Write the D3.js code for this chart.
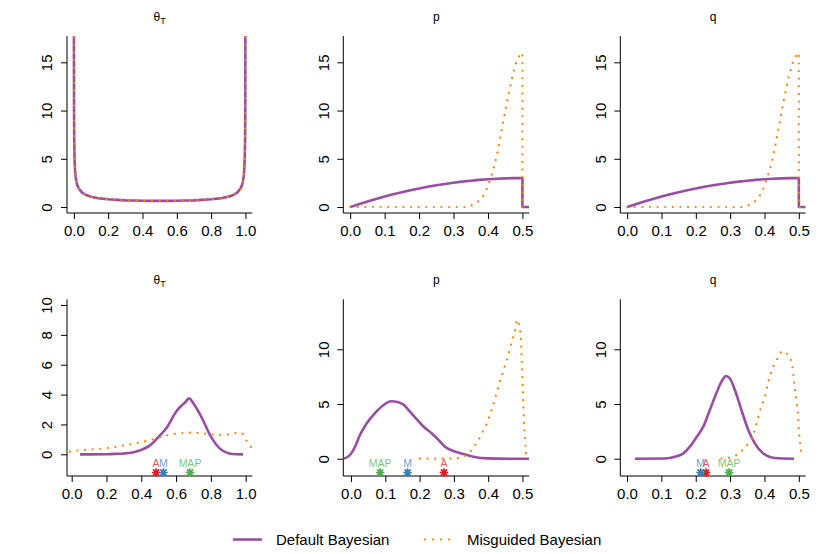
<!DOCTYPE html>
<html>
<head>
<meta charset="utf-8">
<script src="https://cdn.jsdelivr.net/npm/d3@7"></script>
<style>
  body { margin: 0; background: #fff; }
  text { font-family: "Liberation Sans", Arial, sans-serif; }
</style>
</head>
<body>
<svg id="chart"></svg>
<script>
const width = 830;
const height = 554;

// --- data ---
const seriesNames = ["Default Bayesian", "Misguided Bayesian"];

const priorThetaDefault = [[0.0003,18.4],[0.001,10.07],[0.002,7.12],[0.004,5.04],[0.007,3.82],[0.01,3.2],[0.015,2.62],[0.02,2.27],[0.03,1.87],[0.05,1.46],[0.075,1.21],[0.1,1.06],[0.15,0.89],[0.2,0.8],[0.25,0.74],[0.3,0.69],[0.35,0.67],[0.4,0.65],[0.45,0.64],[0.5,0.64],[0.55,0.64],[0.6,0.65],[0.65,0.67],[0.7,0.69],[0.75,0.74],[0.8,0.8],[0.85,0.89],[0.9,1.06],[0.925,1.21],[0.95,1.46],[0.97,1.87],[0.98,2.27],[0.985,2.62],[0.99,3.2],[0.993,3.82],[0.996,5.04],[0.998,7.12],[0.999,10.07],[0.9997,18.4]];
const priorThetaMisguided = [[0.0003,18.4],[0.001,10.07],[0.002,7.12],[0.004,5.04],[0.007,3.82],[0.01,3.2],[0.015,2.62],[0.02,2.27],[0.03,1.87],[0.05,1.46],[0.075,1.21],[0.1,1.06],[0.15,0.89],[0.2,0.8],[0.25,0.74],[0.3,0.69],[0.35,0.67],[0.4,0.65],[0.45,0.64],[0.5,0.64],[0.55,0.64],[0.6,0.65],[0.65,0.67],[0.7,0.69],[0.75,0.74],[0.8,0.8],[0.85,0.89],[0.9,1.06],[0.925,1.21],[0.95,1.46],[0.97,1.87],[0.98,2.27],[0.985,2.62],[0.99,3.2],[0.993,3.82],[0.996,5.04],[0.998,7.12],[0.999,10.07],[0.9997,18.4]];

const priorPDefault = [[0,0],[0.025,0.29],[0.05,0.57],[0.075,0.83],[0.1,1.08],[0.125,1.31],[0.15,1.53],[0.175,1.73],[0.2,1.92],[0.225,2.09],[0.25,2.25],[0.275,2.39],[0.3,2.52],[0.325,2.63],[0.35,2.73],[0.375,2.81],[0.4,2.88],[0.425,2.93],[0.45,2.97],[0.475,2.99],[0.5,3.0],[0.5,0],[0.52,0]];
const priorPMisguided = [[0,0],[0.34,0],[0.355,0.2],[0.365,0.4],[0.375,0.69],[0.39,1.35],[0.4,2.2],[0.41,3.25],[0.42,4.45],[0.43,6.1],[0.44,8.0],[0.45,9.95],[0.46,11.7],[0.47,13.4],[0.48,14.8],[0.49,15.6],[0.5,16.0],[0.5,0],[0.52,0]];

const priorQDefault = [[0,0],[0.025,0.29],[0.05,0.57],[0.075,0.83],[0.1,1.08],[0.125,1.31],[0.15,1.53],[0.175,1.73],[0.2,1.92],[0.225,2.09],[0.25,2.25],[0.275,2.39],[0.3,2.52],[0.325,2.63],[0.35,2.73],[0.375,2.81],[0.4,2.88],[0.425,2.93],[0.45,2.97],[0.475,2.99],[0.5,3.0],[0.5,0],[0.52,0]];
const priorQMisguided = [[0,0],[0.34,0],[0.355,0.2],[0.365,0.4],[0.375,0.69],[0.39,1.35],[0.4,2.2],[0.41,3.25],[0.42,4.45],[0.43,6.1],[0.44,8.0],[0.45,9.95],[0.46,11.7],[0.47,13.4],[0.48,14.8],[0.49,15.6],[0.5,16.0],[0.5,0],[0.52,0]];

const postThetaDefault = [[0.048,0],[0.1,0],[0.2,0.01],[0.25,0.03],[0.3,0.06],[0.35,0.13],[0.4,0.3],[0.45,0.6],[0.5,1.18],[0.55,1.85],[0.6,2.85],[0.63,3.25],[0.65,3.45],[0.675,3.75],[0.7,3.4],[0.75,2.4],[0.8,1.18],[0.85,0.4],[0.9,0.08],[0.95,0.01],[0.985,0]];
const postThetaMisguided = [[-0.01,0.18],[0.05,0.28],[0.1,0.32],[0.15,0.36],[0.2,0.42],[0.25,0.5],[0.3,0.6],[0.35,0.7],[0.4,0.82],[0.45,0.96],[0.5,1.12],[0.55,1.28],[0.6,1.38],[0.65,1.44],[0.7,1.45],[0.75,1.41],[0.8,1.34],[0.85,1.3],[0.9,1.33],[0.95,1.43],[0.98,1.4],[1.0,1.0],[1.015,0.75],[1.03,0.5]];

const postPDefault = [[-0.022,0],[-0.003,0.34],[0.012,1.1],[0.026,2.17],[0.046,3.25],[0.07,4.17],[0.094,4.88],[0.117,5.25],[0.138,5.15],[0.153,4.94],[0.172,4.3],[0.192,3.6],[0.211,2.94],[0.235,2.33],[0.255,1.72],[0.274,1.1],[0.299,0.7],[0.328,0.43],[0.357,0.18],[0.396,0.03],[0.47,0],[0.52,0]];
const postPMisguided = [[0.201,0],[0.25,0],[0.3,0.02],[0.337,0.34],[0.364,1.34],[0.38,2.2],[0.396,3.23],[0.41,4.45],[0.43,6.6],[0.445,8.1],[0.457,9.3],[0.469,10.7],[0.479,11.8],[0.485,12.7],[0.491,12.1],[0.495,11.2],[0.498,9.0],[0.501,6.3],[0.505,3.2],[0.51,0.5]];

const postQDefault = [[0.023,0],[0.11,0.02],[0.14,0.18],[0.164,0.49],[0.183,1.1],[0.203,2.0],[0.222,2.93],[0.241,4.45],[0.26,5.98],[0.275,7.04],[0.288,7.56],[0.299,7.35],[0.314,6.28],[0.333,4.45],[0.353,2.62],[0.372,1.4],[0.396,0.49],[0.43,0.06],[0.486,0]];
const postQMisguided = [[0.275,0],[0.297,0.09],[0.319,0.34],[0.336,0.79],[0.353,1.4],[0.367,2.1],[0.377,3.23],[0.389,4.6],[0.401,5.67],[0.411,7.0],[0.42,7.96],[0.43,8.7],[0.44,9.27],[0.452,9.85],[0.464,9.63],[0.477,9.0],[0.482,8.26],[0.486,7.04],[0.49,6.13],[0.495,4.76],[0.498,3.84],[0.5,2.62],[0.503,1.7],[0.506,0.64]];

// point estimates (A, M, MAP) shown under the posterior curves
const estimateNames = ["A", "M", "MAP"];
const thetaEstimates = [0.485, 0.527, 0.68];
const pEstimates = [0.271, 0.165, 0.085];
const qEstimates = [0.23, 0.214, 0.297];

const xTicksTheta = [0, 0.2, 0.4, 0.6, 0.8, 1.0];
const xTicksHalf = [0, 0.1, 0.2, 0.3, 0.4, 0.5];
const yTicksPrior = [0, 5, 10, 15];
const yTicksPostTheta = [0, 2, 4, 6, 8, 10];
const yTicksPost = [0, 5, 10];

// --- styling ---
const colDefault = "#984EA3";
const colMisguided = "#FF7F00";
const estimateColors = ["#E41A1C", "#377EB8", "#4DAF4A"];

const panels = [
  { title: "theta", x0: 67, x1: 252.3, y0: 36, y1: 213, xd: [-0.04, 1.04], yd: [-0.622, 17.73],
    xt: xTicksTheta, yt: yTicksPrior, def: priorThetaDefault, mis: priorThetaMisguided },
  { title: "p", x0: 343.3, x1: 529.3, y0: 36, y1: 213, xd: [-0.02, 0.52], yd: [-0.622, 17.73],
    xt: xTicksHalf, yt: yTicksPrior, def: priorPDefault, mis: priorPMisguided },
  { title: "q", x0: 620.3, x1: 805.7, y0: 36, y1: 213, xd: [-0.02, 0.52], yd: [-0.622, 17.73],
    xt: xTicksHalf, yt: yTicksPrior, def: priorQDefault, mis: priorQMisguided },
  { title: "theta", x0: 67, x1: 252.3, y0: 299.3, y1: 476, xd: [-0.027, 1.038], yd: [-1.45, 10.38],
    xt: xTicksTheta, yt: yTicksPostTheta, def: postThetaDefault, mis: postThetaMisguided, est: thetaEstimates, smooth: true },
  { title: "p", x0: 343.3, x1: 529.3, y0: 299.3, y1: 476, xd: [-0.0225, 0.52], yd: [-1.58, 14.57],
    xt: xTicksHalf, yt: yTicksPost, def: postPDefault, mis: postPMisguided, est: pEstimates, smooth: true },
  { title: "q", x0: 620.3, x1: 805.7, y0: 299.3, y1: 476, xd: [-0.0195, 0.52], yd: [-1.58, 14.57],
    xt: xTicksHalf, yt: yTicksPost, def: postQDefault, mis: postQMisguided, est: qEstimates, smooth: true }
];

const svg = d3.select("#chart")
  .attr("width", width)
  .attr("height", height)
  .style("background", "#fff");

panels.forEach((p, i) => {
  const x = d3.scaleLinear().domain(p.xd).range([p.x0, p.x1]);
  const y = d3.scaleLinear().domain(p.yd).range([p.y1, p.y0]);
  const g = svg.append("g");

  g.append("clipPath").attr("id", "clip" + i)
    .append("rect")
    .attr("x", p.x0).attr("y", p.y0)
    .attr("width", p.x1 - p.x0).attr("height", p.y1 - p.y0);

  // title
  const t = g.append("text")
    .attr("x", (p.x0 + p.x1) / 2)
    .attr("y", p.y0 - 15)
    .attr("text-anchor", "middle")
    .attr("font-size", 12);
  if (p.title === "theta") {
    t.append("tspan").text("θ");
    t.append("tspan").attr("dy", 3).attr("font-size", 9).text("T");
  } else {
    t.text(p.title);
  }

  // axes
  const xAxis = d3.axisBottom(x).tickValues(p.xt).tickSize(6).tickFormat(d3.format(".1f"));
  const gx = g.append("g").attr("transform", `translate(0,${p.y1})`).call(xAxis);
  gx.select(".domain").remove();
  gx.selectAll("text").attr("y", 22.5).attr("dy", 0).attr("font-size", 15)
    .attr("font-family", "Liberation Sans, Arial, sans-serif");

  const yAxis = d3.axisLeft(y).tickValues(p.yt).tickSize(6).tickFormat(d3.format("d"));
  const gy = g.append("g").attr("transform", `translate(${p.x0},0)`).call(yAxis);
  gy.select(".domain").remove();
  gy.selectAll("text")
    .attr("transform", "rotate(-90)")
    .attr("x", 0).attr("y", -14.8).attr("dy", 0)
    .attr("text-anchor", "middle")
    .attr("font-size", 15)
    .attr("font-family", "Liberation Sans, Arial, sans-serif");

  // L-shaped box
  g.append("path")
    .attr("d", `M${p.x0},${p.y0}V${p.y1}H${p.x1}`)
    .attr("fill", "none").attr("stroke", "#000").attr("stroke-width", 1);

  const line = d3.line()
    .x(d => x(d[0]))
    .y(d => y(d[1]))
    .curve(p.smooth ? d3.curveMonotoneX : d3.curveLinear);

  const lines = g.append("g").attr("clip-path", `url(#clip${i})`);
  lines.append("path")
    .attr("d", line(p.def))
    .attr("fill", "none").attr("stroke", colDefault).attr("stroke-width", 2.6)
    .attr("stroke-linejoin", "round");
  lines.append("path")
    .attr("d", line(p.mis))
    .attr("fill", "none").attr("stroke", colMisguided).attr("stroke-width", 2.2)
    .attr("stroke-linecap", "round")
    .attr("stroke-dasharray", "0.01 7.6");

  if (p.est) {
    const sy = p.y1 - 3.5;
    p.est.forEach((v, k) => {
      const cx = x(v);
      const r = 4.3;
      let d = "";
      for (let a = 0; a < 4; a++) {
        const ang = a * Math.PI / 4;
        const dx = r * Math.sin(ang), dy = r * Math.cos(ang);
        d += `M${cx - dx},${sy - dy}L${cx + dx},${sy + dy}`;
      }
      g.append("path").attr("d", d)
        .attr("stroke", estimateColors[k]).attr("stroke-width", 1.7).attr("fill", "none");
      g.append("text")
        .attr("x", cx).attr("y", sy - 6)
        .attr("text-anchor", "middle")
        .attr("font-size", 10.5)
        .attr("fill", estimateColors[k])
        .attr("fill-opacity", 0.75)
        .text(estimateNames[k]);
    });
  }
});

// legend
const leg = svg.append("g");
leg.append("line")
  .attr("x1", 233).attr("x2", 262).attr("y1", 539.5).attr("y2", 539.5)
  .attr("stroke", colDefault).attr("stroke-width", 2.6);
leg.append("text")
  .attr("x", 276).attr("y", 545).attr("font-size", 15).text(seriesNames[0]);
leg.append("line")
  .attr("x1", 425).attr("x2", 450).attr("y1", 539.5).attr("y2", 539.5)
  .attr("stroke", colMisguided).attr("stroke-width", 2.2)
  .attr("stroke-linecap", "round").attr("stroke-dasharray", "0.01 8");
leg.append("text")
  .attr("x", 467).attr("y", 545).attr("font-size", 15).text(seriesNames[1]);
</script>
</body>
</html>
